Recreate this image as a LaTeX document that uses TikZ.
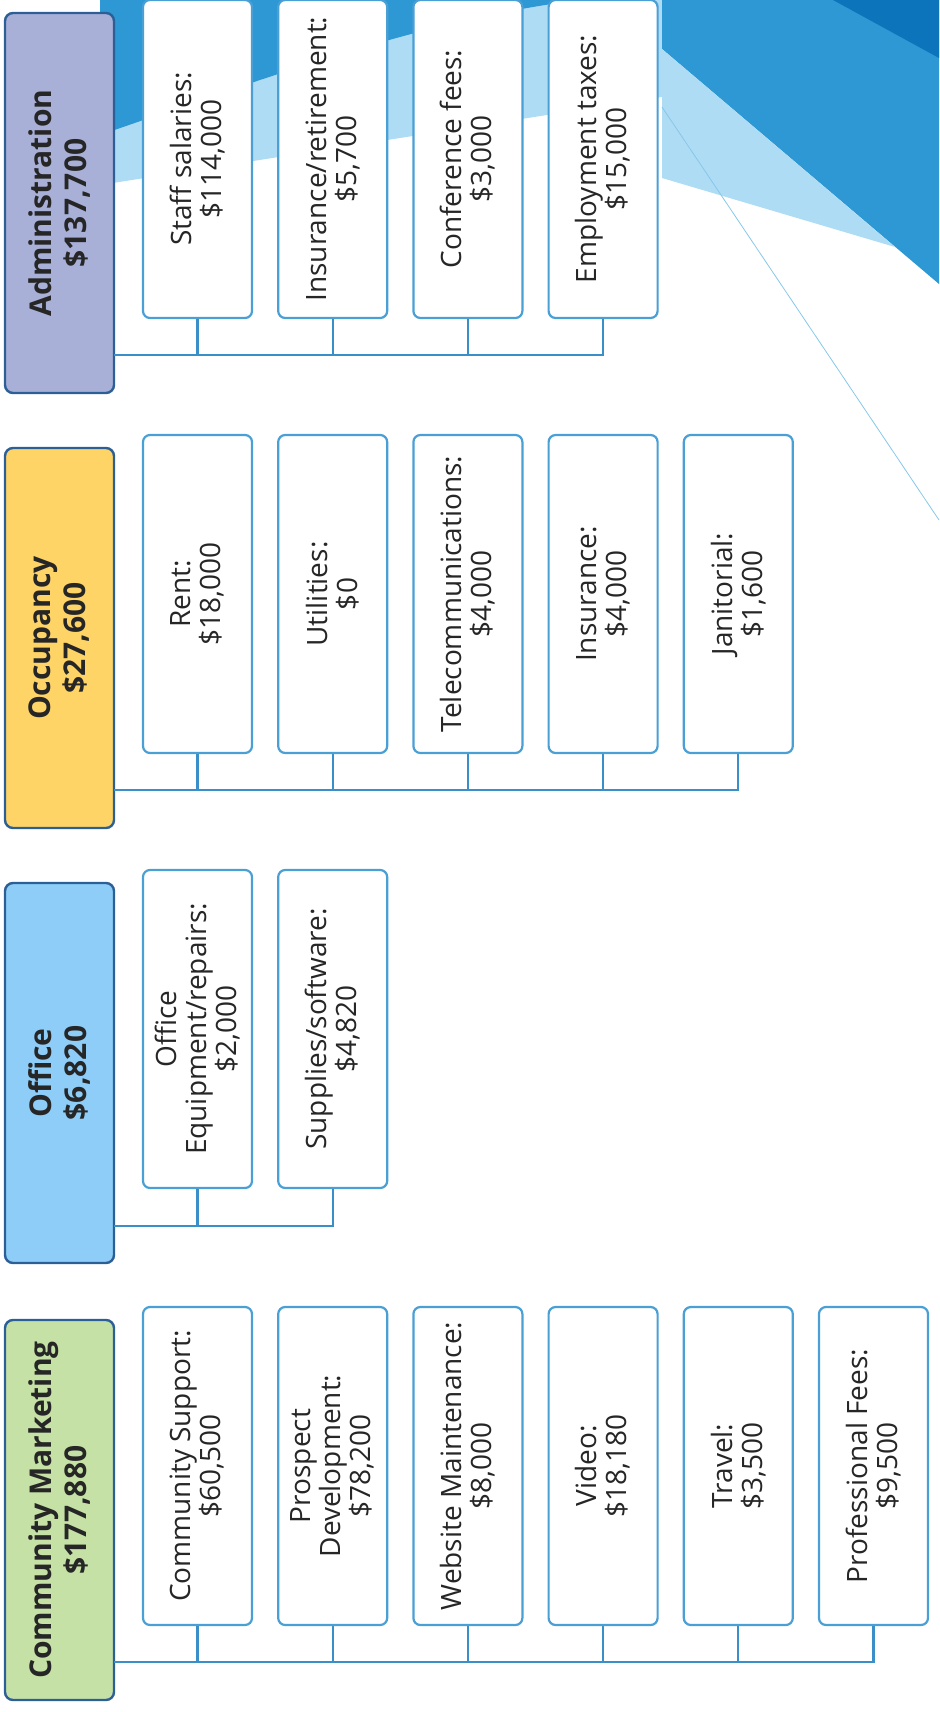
\documentclass[tikz,border=0pt]{standalone}
\usepackage{fontspec}
\setsansfont{Open Sans}
\usetikzlibrary{calc}
\definecolor{adminPurple}{HTML}{A9B0D8}
\definecolor{occOrange}{HTML}{FFD467}
\definecolor{officeBlue}{HTML}{8DCDF7}
\definecolor{marketGreen}{HTML}{C5E1A5}
\definecolor{frameNavy}{HTML}{2C5F96}
\definecolor{itemBlue}{HTML}{4A9FD5}
\definecolor{busBlue}{HTML}{3A8FC8}
\definecolor{waveDark}{HTML}{0B74BA}
\definecolor{waveMid}{HTML}{2D98D3}
\definecolor{waveLight}{HTML}{AEDCF4}
\definecolor{inkGray}{HTML}{262626}
\begin{document}
\begin{tikzpicture}[x=1pt,y=-1pt,
    cat/.style={draw=frameNavy, line width=2.4pt, rounded corners=8pt, rotate=90,
      minimum width=380pt, minimum height=109pt, inner sep=0pt, align=center,
      text=inkGray, font=\sffamily\bfseries\fontsize{30}{35}\selectfont},
    item/.style={draw=itemBlue, fill=white, line width=2.2pt, rounded corners=7pt,
      rotate=90, minimum width=318pt, minimum height=109pt, inner sep=0pt,
      align=center, text=inkGray, font=\sffamily\fontsize{28}{30}\selectfont},
    bus/.style={draw=busBlue, line width=2.2pt}]
  \useasboundingbox (0,0) rectangle (939,1712);
  % Background wave
  \fill[waveLight] (100,0) -- (662,0) -- (662,97) -- (100,185) -- cycle;
  \fill[waveMid] (100,0) -- (580,0) .. controls (420,20) and (260,80) .. (100,135) -- cycle;
  \fill[waveMid] (662,0) -- (939,0) -- (939,284) -- (662,49) -- cycle;
  \fill[waveLight] (662,49) -- (895,247) -- (662,178) -- cycle;
  \fill[waveDark] (833,0) -- (939,0) -- (939,58) -- cycle;
  \draw[waveLight!70!waveMid, line width=0.8pt] (662,107) -- (939,520);

  % Administration
  \node[cat, fill=adminPurple] (adm) at (59.5,203) {Administration\\\$137,700};
  \node[item] (a1) at (197.5,159) {Staff salaries:\\\$114,000};
  \node[item] (a2) at (332.7,159) {Insurance/retirement:\\\$5,700};
  \node[item] (a3) at (467.9,159) {Conference fees:\\\$3,000};
  \node[item] (a4) at (603.1,159) {Employment taxes:\\\$15,000};
  \coordinate (admbus) at (114,355);
  \draw[bus] (a4.west) |- (admbus);
  \foreach \n in {a1,a2,a3}
    \draw[bus] (\n.west) -- (\n.west |- admbus);

  % Occupancy
  \node[cat, fill=occOrange] (occ) at (59.5,638) {Occupancy\\\$27,600};
  \node[item] (o1) at (197.5,594) {Rent:\\\$18,000};
  \node[item] (o2) at (332.7,594) {Utilities:\\\$0};
  \node[item] (o3) at (467.9,594) {Telecommunications:\\\$4,000};
  \node[item] (o4) at (603.1,594) {Insurance:\\\$4,000};
  \node[item] (o5) at (738.3,594) {Janitorial:\\\$1,600};
  \coordinate (occbus) at (114,790);
  \draw[bus] (o5.west) |- (occbus);
  \foreach \n in {o1,o2,o3,o4}
    \draw[bus] (\n.west) -- (\n.west |- occbus);

  % Office
  \node[cat, fill=officeBlue] (off) at (59.5,1073) {Office\\\$6,820};
  \node[item] (f1) at (197.5,1029) {Office\\Equipment/repairs:\\\$2,000};
  \node[item] (f2) at (332.7,1029) {Supplies/software:\\\$4,820};
  \coordinate (offbus) at (114,1226);
  \draw[bus] (f2.west) |- (offbus);
  \draw[bus] (f1.west) -- (f1.west |- offbus);

  % Community Marketing
  \node[cat, fill=marketGreen] (mkt) at (59.5,1510) {Community Marketing\\\$177,880};
  \node[item] (m1) at (197.5,1466) {Community Support:\\\$60,500};
  \node[item] (m2) at (332.7,1466) {Prospect\\Development:\\\$78,200};
  \node[item] (m3) at (467.9,1466) {Website Maintenance:\\\$8,000};
  \node[item] (m4) at (603.1,1466) {Video:\\\$18,180};
  \node[item] (m5) at (738.3,1466) {Travel:\\\$3,500};
  \node[item] (m6) at (873.5,1466) {Professional Fees:\\\$9,500};
  \coordinate (mktbus) at (114,1662);
  \draw[bus] (m6.west) |- (mktbus);
  \foreach \n in {m1,m2,m3,m4,m5}
    \draw[bus] (\n.west) -- (\n.west |- mktbus);
\end{tikzpicture}
\end{document}
